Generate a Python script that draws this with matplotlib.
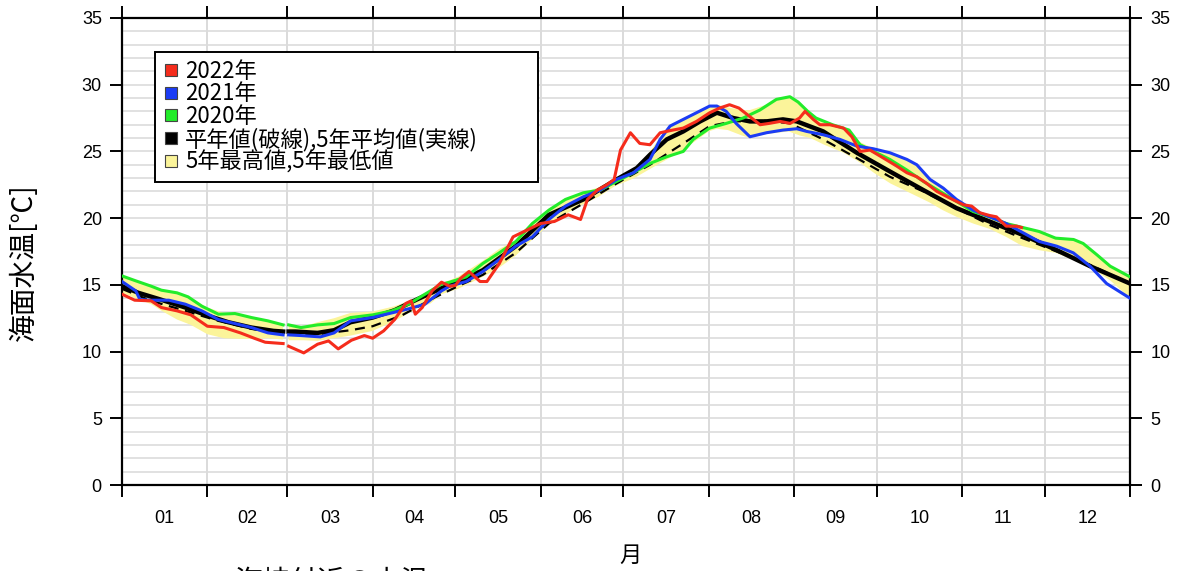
import numpy as np
import matplotlib
matplotlib.use('Agg')
import matplotlib.pyplot as plt
from matplotlib.lines import Line2D

nan = np.nan

# month boundaries (leap-year axis, Feb 29 left empty)
month_bounds = [0, 31, 60, 91, 121, 152, 182, 213, 244, 274, 305, 335, 366]
month_labels = ['01', '02', '03', '04', '05', '06', '07', '08', '09', '10', '11', '12']

# 2022
red_days = [0, 4.6, 10.6, 14.3, 20, 25, 31, 37, 43, 48, 52, 58.5, 59.5, 60.5, 66, 71, 75, 78.5,
            83.3, 88, 91, 95, 99, 103, 105, 106.5, 109, 112.6, 116, 119, 121, 123, 126, 130,
            132.5, 137, 142, 147, 152, 157, 162, 166.5, 169, 172.6, 176, 178.7, 181, 184.6,
            188, 191.7, 195.4, 200, 203.8, 208.6, 213.4, 217, 220.6, 224, 228, 231.7, 235,
            239, 242.6, 246, 248, 251, 253.4, 257, 262, 265, 268, 271.6, 276.5, 281.3, 285,
            288.6, 292.2, 295.9, 300.6, 305.5, 308.5, 311.5, 315, 317.5, 321, 324.8, 326.6]
red_vals = [14.3, 13.85, 13.8, 13.3, 13.05, 12.75, 11.9, 11.8, 11.4, 11.0, 10.7, 10.6, nan, 10.4,
            9.9, 10.55, 10.8, 10.2, 10.85, 11.2, 11.0, 11.55, 12.4, 13.6, 13.8, 12.8, 13.3,
            14.55, 15.2, 14.9, 14.95, 15.5, 16.0, 15.25, 15.25, 16.6, 18.6, 19.1, 19.6, 19.75,
            20.25, 19.9, 21.4, 22.1, 22.5, 22.9, 25.1, 26.4, 25.6, 25.5, 26.4, 26.6, 26.75,
            27.25, 27.9, 28.25, 28.5, 28.25, 27.6, 27.0, 27.1, 27.25, 27.1, 27.5, 28.0, 27.4,
            27.0, 27.0, 26.75, 26.1, 25.0, 25.1, 24.5, 23.9, 23.4, 23.1, 22.6, 22.0, 21.5,
            21.0, 20.9, 20.4, 20.2, 20.1, 19.4, 19.4, 19.3]

# 2021
blue_days = [0, 5, 6.5, 10, 17, 23, 29, 35, 41, 47, 53, 58.5, 59.5, 60.5, 65, 72, 77, 83, 91, 98,
             104, 110, 116, 119, 125, 131, 137, 143, 149, 155, 161, 167.5, 173.5, 179.6, 185.7,
             191.7, 195.4, 199, 203.8, 208.6, 213.4, 216, 219.4, 223, 228, 234, 240, 245,
             248.6, 254.6, 260.7, 266.8, 272.8, 278.8, 285, 288.6, 293.4, 298.2, 303, 309, 315,
             321, 327.2, 333, 339.4, 345.4, 351.5, 357.5, 366]
blue_vals = [15.25, 14.55, 13.9, 13.85, 13.85, 13.55, 13.05, 12.4, 12.1, 11.8, 11.4, 11.25, nan,
             11.25, 11.2, 11.1, 11.4, 12.3, 12.55, 12.9, 13.2, 13.55, 14.55, 14.9, 15.25, 16.0,
             16.9, 17.9, 18.6, 19.9, 20.9, 21.6, 22.1, 22.9, 23.4, 24.4, 25.9, 26.9, 27.4, 27.9,
             28.4, 28.4, 28.0, 27.1, 26.1, 26.4, 26.6, 26.7, 26.5, 26.25, 25.9, 25.4, 25.2, 24.9,
             24.4, 24.0, 22.9, 22.25, 21.4, 20.6, 20.1, 19.6, 18.9, 18.25, 17.9, 17.4, 16.4,
             15.1, 14.0]

# 2020
green_days = [0, 5, 10.6, 14.3, 20, 24, 29, 35, 41, 47, 53, 58.5, 59.5, 60.5, 65, 71, 77, 83, 91,
              98, 104, 110, 116, 119, 125, 131, 137, 143, 149, 155, 161, 167.5, 173.5, 179.6,
              185.7, 191.7, 197.8, 203.8, 207.4, 213.4, 219.4, 225.5, 231.6, 237.6, 242.5,
              245.5, 249, 252, 258, 264, 268, 272.9, 278.8, 285, 291, 297, 303, 309, 315, 321,
              327, 333, 339, 345.5, 349, 354, 358.8, 366]
green_vals = [15.67, 15.3, 14.9, 14.6, 14.4, 14.1, 13.4, 12.8, 12.85, 12.55, 12.3, 12.0, nan,
              12.0, 11.8, 12.0, 12.1, 12.55, 12.75, 13.05, 13.55, 14.3, 15.05, 15.2, 15.6, 16.6,
              17.4, 18.25, 19.6, 20.6, 21.4, 21.9, 22.1, 22.75, 23.4, 24.1, 24.6, 25.0, 25.9,
              26.75, 27.1, 27.5, 28.1, 28.9, 29.1, 28.7, 28.0, 27.5, 27.0, 26.6, 25.5, 25.0,
              24.4, 23.6, 22.75, 22.0, 21.25, 20.5, 20.1, 19.6, 19.3, 19.0, 18.5, 18.4, 18.1,
              17.25, 16.4, 15.6]

# 5-year mean (solid)
mean5_days = [0, 6, 14, 23, 31, 38.6, 47, 55, 58.5, 59.5, 60.5, 63, 71, 77, 83, 91, 99, 107, 116,
              119, 125, 131, 143, 155, 167.5, 179.6, 186.9, 191.7, 197.8, 203.8, 209.9, 216,
              222, 228, 234, 240, 245, 254.6, 266.8, 278.8, 291, 303, 315, 327, 339.4, 351.5, 366]
mean5_vals = [14.9, 14.4, 13.9, 13.3, 12.7, 12.2, 11.8, 11.55, 11.5, nan, 11.5, 11.5, 11.4, 11.6,
              12.2, 12.55, 13.1, 13.9, 14.75, 15.0, 15.5, 16.1, 17.9, 20.25, 21.4, 22.9, 23.75,
              24.75, 25.9, 26.5, 27.25, 27.9, 27.5, 27.25, 27.25, 27.4, 27.25, 26.5, 24.9, 23.5,
              22.1, 20.75, 19.75, 18.75, 17.6, 16.4, 15.1]

# normal (dashed)
normal_days = [0, 10.6, 23, 35, 47, 58.5, 59.5, 60.5, 71, 83, 91, 101.5, 113.5, 119, 123, 131, 143,
               155, 167.5, 179.6, 191.7, 203.8, 213.4, 222, 234, 242.6, 254.6, 266.8, 278.8,
               291, 303, 315, 327, 339.4, 351.5, 366]
normal_vals = [14.7, 13.8, 13.05, 12.3, 11.7, 11.35, nan, 11.3, 11.3, 11.6, 11.9, 12.7, 14.05,
               14.6, 15.0, 15.75, 17.4, 19.6, 21.1, 22.6, 24.0, 25.6, 26.9, 27.25, 27.3, 27.1,
               25.9, 24.5, 23.1, 22.0, 20.75, 19.5, 18.5, 17.5, 16.5, 15.1]

# 5-year max / min band
band_days = [0, 5, 10.6, 14, 20, 25, 31, 37, 43, 48, 53, 58.5, 59.5, 60.5, 66, 71, 77, 83, 91, 99,
             107, 112, 116, 122, 131, 137, 143, 149, 155, 161, 167, 173, 179, 186, 191, 197, 203,
             209, 213, 216, 220, 225, 228, 234, 238, 242, 246, 250, 255, 262, 267, 273, 279, 285,
             289, 293, 298, 303, 309, 315, 321, 327, 333, 339, 345, 349, 354, 359, 366]
band_hi = [15.7, 15.3, 14.9, 14.6, 14.4, 14.0, 13.3, 12.9, 12.8, 12.5, 12.3, 12.0, nan, 12.0,
           11.9, 12.2, 12.5, 12.9, 13.0, 13.4, 14.0, 14.6, 15.1, 15.6, 16.8, 17.7, 18.3, 19.6,
           20.7, 21.4, 21.9, 22.3, 23.0, 23.7, 24.8, 26.5, 27.4, 27.95, 28.4, 28.5, 28.3, 28.1,
           28.1, 28.5, 28.9, 29.1, 28.7, 27.9, 27.1, 26.6, 25.8, 25.2, 24.9, 24.4, 24.0, 23.0,
           22.3, 21.4, 20.6, 20.1, 19.7, 19.3, 19.0, 18.5, 18.4, 18.1, 17.3, 16.4, 15.7]
band_lo = [14.4, 14.0, 13.55, 13.1, 12.4, 12.0, 11.3, 11.0, 10.95, 10.95, 11.0, 10.9, nan, 10.85,
           10.85, 10.8, 11.0, 11.2, 11.55, 12.3, 13.2, 13.6, 14.3, 14.7, 15.6, 16.3, 17.2, 18.4,
           19.5, 20.3, 21.0, 21.6, 22.4, 23.0, 23.6, 24.3, 25.0, 25.9, 26.5, 26.7, 26.6, 26.2,
           26.0, 26.3, 26.4, 26.5, 26.2, 26.0, 25.5, 24.9, 24.3, 23.4, 22.6, 22.0, 21.6, 21.2,
           20.6, 20.1, 19.6, 19.2, 18.6, 17.9, 17.6, 17.4, 16.9, 16.5, 16.0, 15.3, 14.0]

c_red = '#f52c1c'
c_blue = '#1b3cf5'
c_green = '#22ec2a'
c_band = '#fbf49a'

plt.rcParams['font.family'] = ['Liberation Sans', 'Noto Sans CJK JP']
jp = ['Noto Sans CJK JP', 'DejaVu Sans']

fig = plt.figure(figsize=(11.95, 5.71), dpi=100)
ax = fig.add_axes([0.1021, 0.1506, 0.8435, 0.8179])

ax.fill_between(band_days, band_lo, band_hi, color=c_band, lw=0, zorder=1)
ax.plot(normal_days, normal_vals, color='black', lw=1.6, dashes=(4.5, 3), zorder=2)
ax.plot(mean5_days, mean5_vals, color='black', lw=3.2, zorder=3)
ax.plot(green_days, green_vals, color=c_green, lw=2.2, zorder=4)
ax.plot(blue_days, blue_vals, color=c_blue, lw=2.2, zorder=5)
ax.plot(red_days, red_vals, color=c_red, lw=2.2, zorder=6)

ax.set_xlim(0, 366)
ax.set_ylim(0, 35)

# grid
ax.set_xticks(month_bounds)
ax.set_xticks([(month_bounds[i] + month_bounds[i + 1]) / 2 for i in range(12)], minor=True)
ax.set_xticklabels([])
ax.set_xticklabels(month_labels, minor=True)
ax.set_yticks(np.arange(0, 36, 5))
ax.set_yticks(np.arange(0, 36, 1), minor=True)
ax.grid(axis='x', which='major', color='#d4d4d4', lw=1.2, zorder=0)
ax.grid(axis='y', which='both', color='#dcdcdc', lw=1.2, zorder=0)
ax.set_axisbelow(True)

ax.tick_params(axis='both', which='major', direction='out', length=8.5, width=1.4,
               labelsize=13, top=True, right=True, labelright=True, pad=6)
ax.tick_params(axis='x', which='minor', length=0, labelsize=13, pad=18)
ax.tick_params(axis='y', which='minor', length=0)
for s in ax.spines.values():
    s.set_linewidth(1.6)

handles = [Line2D([], [], ls='none', marker='s', markersize=8, markerfacecolor=c,
                  markeredgecolor='#444444', markeredgewidth=0.8)
           for c in [c_red, c_blue, c_green, 'black', c_band]]
labels = ['2022年', '2021年', '2020年', '平年値(破線),5年平均値(実線)', '5年最高値,5年最低値']
leg = ax.legend(handles, labels, loc='upper left', bbox_to_anchor=(0.0327, 0.5, 0.38, 0.427),
                mode='expand', borderaxespad=0, prop={'family': jp, 'size': 16},
                handlelength=0.7, handletextpad=0.3, labelspacing=-0.02, borderpad=0.35,
                fancybox=False, framealpha=1, edgecolor='black')
leg.get_frame().set_linewidth(1.4)
leg.set_zorder(10)

fig.text(0.02, 0.541, '海面水温[℃]', rotation=90, ha='center', va='center',
         family=jp, fontsize=20)
fig.text(630 / 1195, 1 - 555 / 571, '月', ha='center', va='center', family=jp, fontsize=16)
fig.text(235 / 1195, 4 / 571, '海峡付近の水温', ha='left', va='top', family=jp,
         fontsize=20)

fig.savefig('out.png', dpi=100)
